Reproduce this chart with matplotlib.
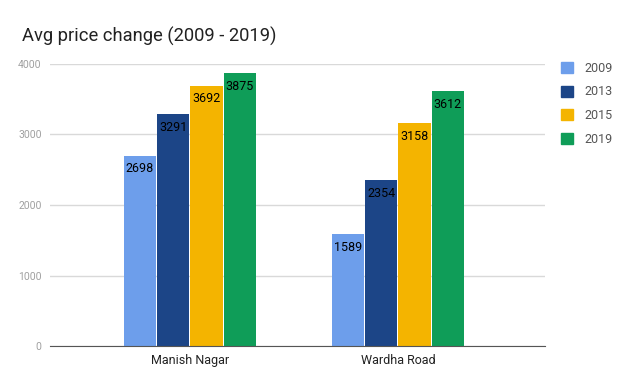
import matplotlib.pyplot as plt
import numpy as np
from matplotlib.patches import Patch

plt.rcParams['font.family'] = ['Roboto', 'DejaVu Sans']

localities = ["Manish Nagar", "Wardha Road"]
years = ["2009", "2013", "2015", "2019"]
prices = {
    "2009": [2698, 1589],
    "2013": [3291, 2354],
    "2015": [3692, 3158],
    "2019": [3875, 3612],
}
colors = ["#6d9eeb", "#1c4587", "#f4b400", "#0f9d58"]

fig = plt.figure(figsize=(6.28, 3.89), dpi=100)
ax = fig.add_axes([0.0796, 0.1105, 0.788, 0.725])

x = np.arange(len(localities))
width = 0.16
for i, (yr, col) in enumerate(zip(years, colors)):
    pos = x + (i - 1.5) * width
    bars = ax.bar(pos, prices[yr], width * 0.97, color=col, zorder=3)
    for b, v in zip(bars, prices[yr]):
        ax.text(b.get_x() + b.get_width() / 2, v - 95, str(v),
                ha="center", va="top", fontsize=9, color="black", zorder=4)

ax.set_xlim(-0.673, 1.707)
ax.set_ylim(0, 4000)
ax.set_yticks([0, 1000, 2000, 3000, 4000])
ax.set_xticks(x)
ax.set_xticklabels(localities, fontsize=9, color="#222222")
ax.tick_params(axis="y", labelsize=7.5, colors="#a0a0a0", length=0, pad=6)
ax.tick_params(axis="x", length=0, pad=6)
ax.grid(axis="y", color="#d9d9d9", linewidth=1, zorder=0)
for s in ["top", "right", "left"]:
    ax.spines[s].set_visible(False)
ax.spines["bottom"].set_color("#555555")
ax.spines["bottom"].set_zorder(5)

fig.text(0.035, 0.893, "Avg price change (2009 - 2019)", fontsize=13.2, color="#222222")

handles = [Patch(facecolor=c, edgecolor=c) for c in colors]
fig.legend(handles, years, loc="upper left", bbox_to_anchor=(0.875, 0.87),
           frameon=False, fontsize=9, labelcolor="#555555",
           handlelength=1.0, handleheight=1.0, labelspacing=0.85, handletextpad=0.9)

fig.savefig("out.png", dpi=100)
